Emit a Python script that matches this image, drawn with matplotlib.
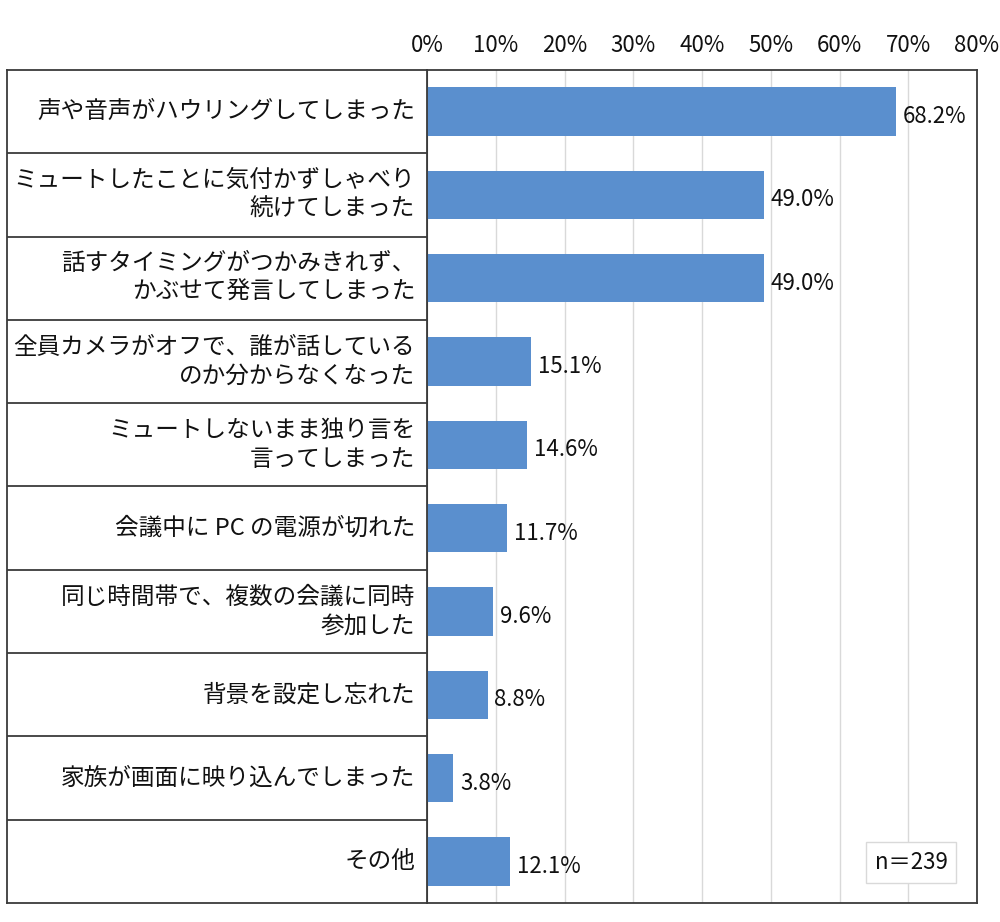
import matplotlib
matplotlib.use("Agg")
import matplotlib.pyplot as plt

plt.rcParams['font.family'] = ['Noto Sans CJK JP', 'DejaVu Sans']

categories = [
    "声や音声がハウリングしてしまった",
    "ミュートしたことに気付かずしゃべり\n続けてしまった",
    "話すタイミングがつかみきれず、\nかぶせて発言してしまった",
    "全員カメラがオフで、誰が話している\nのか分からなくなった",
    "ミュートしないまま独り言を\n言ってしまった",
    "会議中に PC の電源が切れた",
    "同じ時間帯で、複数の会議に同時\n参加した",
    "背景を設定し忘れた",
    "家族が画面に映り込んでしまった",
    "その他",
]
values = [68.2, 49.0, 49.0, 15.1, 14.6, 11.7, 9.6, 8.8, 3.8, 12.1]
xticks = [0, 10, 20, 30, 40, 50, 60, 70, 80]
xtick_labels = ["0%", "10%", "20%", "30%", "40%", "50%", "60%", "70%", "80%"]
note = "n＝239"

W, H = 1000, 922
fig = plt.figure(figsize=(W / 100, H / 100), dpi=100)
fig.patch.set_facecolor("white")

top_px, bot_px = 70, 903
x0_px, x1_px = 427, 977
lab_left_px = 7
n = len(categories)
border = "#3a3a3a"

ax = fig.add_axes([x0_px / W, 1 - bot_px / H, (x1_px - x0_px) / W, (bot_px - top_px) / H])
ax.set_xlim(0, 80)
ax.set_ylim(n, 0)
pos = [i + 0.5 for i in range(n)]
ax.barh(pos, values, height=0.58, color="#5A8FCE", zorder=3)
for p, v in zip(pos, values):
    ax.text(v + 1.0, p + 0.06, f"{v:.1f}%", va="center", ha="left", fontsize=16, color="#111111")
ax.set_xticks(xticks)
ax.set_xticklabels(xtick_labels, fontsize=16, color="#111111")
ax.xaxis.tick_top()
ax.tick_params(axis="x", length=0, pad=9)
ax.set_yticks([])
ax.grid(axis="x", color="#d9d9d9", linewidth=1, zorder=0)
for s in ax.spines.values():
    s.set_color(border)
    s.set_linewidth(1.3)
ax.text(0.88, 0.0486, note, transform=ax.transAxes, ha="center", va="center", fontsize=16,
        color="#111111", zorder=5,
        bbox=dict(boxstyle="square,pad=0.4", facecolor="white", edgecolor="#d9d9d9", linewidth=1))

lax = fig.add_axes([lab_left_px / W, 1 - bot_px / H, (x0_px - lab_left_px) / W, (bot_px - top_px) / H])
lax.set_xlim(0, 1)
lax.set_ylim(n, 0)
lax.set_xticks([])
lax.set_yticks([])
for s in lax.spines.values():
    s.set_color(border)
    s.set_linewidth(1.3)
for i in range(1, n):
    lax.axhline(i, color=border, linewidth=1.3)
for p, c in zip(pos, categories):
    lax.text(0.972, p, c, ha="right", va="center", fontsize=17, color="#111111", linespacing=1.32)

fig.savefig("out.png", dpi=100, facecolor="white")
